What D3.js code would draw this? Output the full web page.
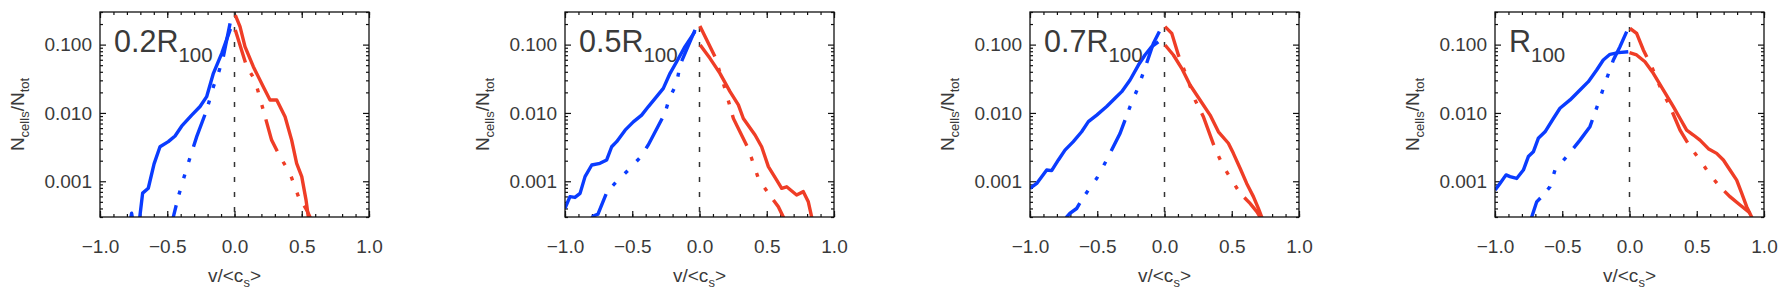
<!DOCTYPE html>
<html>
<head>
<meta charset="utf-8">
<script src="https://cdn.jsdelivr.net/npm/d3@7"></script>
<style>
  body { margin: 0; background: #fff; }
  svg text { font-family: "Liberation Sans", Arial, Helvetica, sans-serif; fill: #3a3a3a; }
</style>
</head>
<body>
<div id="chart"></div>
<script>
// panel labels: prefix before "R" with subscript "100"
var panelPrefix = ["0.2", "0.5", "0.7", ""];
var xTicks = [-1.0, -0.5, 0.0, 0.5, 1.0];
var yTicks = [0.001, 0.010, 0.100];

// [v/<c_s>, N_cells/N_tot]
var blueSolid1 = [[-0.775, 2.6e-4], [-0.765, 3.4e-4], [-0.755, 2.6e-4], [-0.710, 2.4e-4], [-0.683, 6.7e-4], [-0.641, 7.9e-4],
  [-0.598, 1.8e-3], [-0.554, 3.2e-3], [-0.492, 3.8e-3], [-0.442, 4.6e-3], [-0.393, 6.4e-3], [-0.318, 9.3e-3],
  [-0.256, 0.0124], [-0.207, 0.0173], [-0.157, 0.038], [-0.095, 0.0745], [-0.030, 0.17]];
var blueDash1 = [[-0.465, 2.4e-4], [-0.455, 3.0e-4], [-0.418, 5.9e-4], [-0.356, 1.55e-3], [-0.281, 4.5e-3], [-0.207, 0.011],
  [-0.157, 0.0242], [-0.120, 0.038], [-0.083, 0.0665], [-0.033, 0.205]];
var redSolid1 = [[0.006, 0.271], [0.041, 0.183], [0.078, 0.0933], [0.140, 0.0475], [0.214, 0.0242], [0.264, 0.0155],
  [0.314, 0.0155], [0.376, 8.8e-3], [0.425, 4.0e-3], [0.462, 1.83e-3], [0.500, 1.17e-3], [0.532, 5.3e-4],
  [0.549, 3.0e-4], [0.560, 2.5e-4]];
var redDash1 = [[0.006, 0.164], [0.091, 0.0475], [0.152, 0.0303], [0.214, 0.011], [0.276, 4.0e-3], [0.338, 2.3e-3],
  [0.413, 1.3e-3], [0.475, 6.0e-4], [0.537, 3.8e-4], [0.561, 3.0e-4], [0.575, 2.5e-4]];

var blueSolid2 = [[-1.0, 4.0e-4], [-0.963, 5.96e-4], [-0.926, 5.8e-4], [-0.888, 6.65e-4], [-0.851, 1.17e-3], [-0.801, 1.73e-3],
  [-0.740, 1.83e-3], [-0.690, 2.05e-3], [-0.653, 3.2e-3], [-0.616, 3.8e-3], [-0.553, 5.6e-3], [-0.492, 7.4e-3],
  [-0.430, 9.3e-3], [-0.380, 0.0124], [-0.319, 0.0173], [-0.269, 0.0229], [-0.219, 0.038], [-0.170, 0.0562],
  [-0.108, 0.0933], [-0.034, 0.155]];
var blueDash2 = [[-0.820, 2.5e-4], [-0.790, 3.1e-4], [-0.755, 3.3e-4], [-0.688, 7.0e-4], [-0.616, 9.9e-4], [-0.529, 1.46e-3],
  [-0.435, 2.3e-3], [-0.381, 3.4e-3], [-0.257, 9.9e-3], [-0.224, 0.0164], [-0.170, 0.027], [-0.145, 0.050],
  [-0.033, 0.164]];
var redSolid2 = [[0.005, 0.099], [0.078, 0.063], [0.152, 0.038], [0.227, 0.0205], [0.289, 0.0131], [0.326, 8.3e-3],
  [0.413, 4.75e-3], [0.462, 3.2e-3], [0.512, 1.64e-3], [0.574, 1.04e-3], [0.611, 7.9e-4], [0.648, 8.3e-4],
  [0.722, 6.3e-4], [0.772, 7.05e-4], [0.809, 5.0e-4], [0.834, 3.0e-4], [0.845, 2.4e-4]];
var redDash2 = [[0.003, 0.187], [0.115, 0.0665], [0.185, 0.0242], [0.252, 8.3e-3], [0.363, 3.0e-3], [0.442, 1.04e-3],
  [0.512, 6.7e-4], [0.586, 4.25e-4], [0.623, 3.0e-4], [0.640, 2.5e-4]];

var blueSolid3 = [[-1.0, 7.9e-4], [-0.950, 9.3e-4], [-0.876, 1.46e-3], [-0.839, 1.43e-3], [-0.789, 2.05e-3], [-0.740, 2.86e-3],
  [-0.678, 3.8e-3], [-0.616, 5.3e-3], [-0.566, 7.45e-3], [-0.504, 9.3e-3], [-0.430, 0.0124], [-0.368, 0.0164],
  [-0.318, 0.0205], [-0.256, 0.0303], [-0.194, 0.0502], [-0.145, 0.0705], [-0.095, 0.0933], [-0.046, 0.110]];
var blueDash3 = [[-0.740, 2.6e-4], [-0.727, 3.0e-4], [-0.703, 3.4e-4], [-0.653, 4.0e-4], [-0.616, 5.3e-4], [-0.566, 7.45e-4],
  [-0.504, 1.1e-3], [-0.430, 2.05e-3], [-0.331, 5.0e-3], [-0.256, 0.0124], [-0.194, 0.0242], [-0.133, 0.0532],
  [-0.083, 0.104], [-0.038, 0.155]];
var redSolid3 = [[0.004, 0.0986], [0.066, 0.0705], [0.128, 0.045], [0.190, 0.0256], [0.264, 0.0155], [0.339, 9.3e-3],
  [0.401, 5.3e-3], [0.475, 3.6e-3], [0.512, 2.56e-3], [0.562, 1.55e-3], [0.611, 9.3e-4], [0.661, 5.96e-4],
  [0.698, 4.0e-4], [0.723, 3.0e-4], [0.735, 2.5e-4]];
var redDash3 = [[0.004, 0.183], [0.054, 0.146], [0.103, 0.0705], [0.165, 0.034], [0.227, 0.0155], [0.289, 8.8e-3],
  [0.376, 3.0e-3], [0.438, 1.64e-3], [0.500, 1.04e-3], [0.562, 6.7e-4], [0.636, 4.75e-4], [0.686, 3.6e-4],
  [0.711, 3.0e-4], [0.725, 2.5e-4]];

var blueSolid4 = [[-0.999, 7.45e-4], [-0.963, 9.3e-4], [-0.918, 1.24e-3], [-0.888, 1.17e-3], [-0.839, 1.1e-3], [-0.789, 1.46e-3],
  [-0.752, 2.3e-3], [-0.715, 2.7e-3], [-0.678, 4.25e-3], [-0.628, 5.3e-3], [-0.566, 8.3e-3], [-0.517, 0.0117],
  [-0.442, 0.0155], [-0.368, 0.0217], [-0.306, 0.0287], [-0.244, 0.0425], [-0.195, 0.0596], [-0.145, 0.0721],
  [-0.083, 0.0762], [-0.009, 0.0787]];
var blueDash4 = [[-0.740, 2.5e-4], [-0.727, 3.0e-4], [-0.690, 5.0e-4], [-0.641, 6.3e-4], [-0.591, 8.3e-4], [-0.554, 1.46e-3],
  [-0.467, 2.3e-3], [-0.368, 4.0e-3], [-0.294, 6.3e-3], [-0.232, 0.0138], [-0.182, 0.0271], [-0.120, 0.0596],
  [-0.071, 0.0933], [-0.021, 0.155]];
var redSolid4 = [[0.0, 0.0762], [0.053, 0.0705], [0.115, 0.0562], [0.177, 0.038], [0.251, 0.0217], [0.326, 0.0124],
  [0.376, 8.3e-3], [0.425, 5.6e-3], [0.475, 4.75e-3], [0.524, 4.0e-3], [0.586, 3.0e-3], [0.648, 2.56e-3],
  [0.698, 2.05e-3], [0.747, 1.46e-3], [0.797, 1.04e-3], [0.834, 6.7e-4], [0.871, 4.25e-4], [0.908, 3.0e-4],
  [0.920, 2.6e-4]];
var redDash4 = [[0.004, 0.173], [0.053, 0.146], [0.103, 0.0834], [0.165, 0.0475], [0.227, 0.0242], [0.301, 0.0124],
  [0.376, 5.6e-3], [0.450, 3.2e-3], [0.524, 2.05e-3], [0.599, 1.24e-3], [0.673, 8.3e-4], [0.747, 5.96e-4],
  [0.822, 4.5e-4], [0.884, 3.6e-4], [0.921, 3.0e-4], [0.935, 2.6e-4]];

var blueSolid = [blueSolid1, blueSolid2, blueSolid3, blueSolid4];
var blueDash = [blueDash1, blueDash2, blueDash3, blueDash4];
var redSolid = [redSolid1, redSolid2, redSolid3, redSolid4];
var redDash = [redDash1, redDash2, redDash3, redDash4];

var W = 1792, H = 288;
var plotW = 269, plotH = 205, top0 = 12, left0 = 100, step = 465;
var blue = "#0a3cff", red = "#ef3d26";
var dashDot3 = "34,12,4,13,4,13,4,11";

var svg = d3.select("#chart").append("svg")
  .attr("width", W).attr("height", H);

var x = d3.scaleLinear().domain([-1, 1]).range([0, plotW]);
var y = d3.scaleLog().domain([3e-4, 0.3]).range([plotH, 0]);

// minor tick positions
var xMinor = d3.range(-10, 11).map(function(i) { return i / 10; });
var yMinor = [];
[1e-4, 1e-3, 1e-2, 1e-1].forEach(function(dec) {
  for (var k = 2; k <= 9; k++) {
    var v = k * dec;
    if (v >= 3e-4 && v <= 0.3 + 1e-9) yMinor.push(v);
  }
});

var line = d3.line()
  .x(function(d) { return x(d[0]); })
  .y(function(d) { return y(d[1]); });

for (var p = 0; p < 4; p++) {
  var g = svg.append("g")
    .attr("transform", "translate(" + (left0 + p * step) + "," + top0 + ")");

  g.append("clipPath").attr("id", "clip" + p)
    .append("rect").attr("width", plotW).attr("height", plotH);

  // ticks: inward on all four sides
  var axes = [
    [d3.axisBottom(x).tickValues(xTicks).tickSize(-6).tickPadding(23).tickFormat(d3.format(".1f")), "translate(0," + plotH + ")"],
    [d3.axisBottom(x).tickValues(xMinor).tickSize(-3).tickFormat(""), "translate(0," + plotH + ")"],
    [d3.axisTop(x).tickValues(xTicks).tickSize(-6).tickFormat(""), null],
    [d3.axisTop(x).tickValues(xMinor).tickSize(-3).tickFormat(""), null],
    [d3.axisLeft(y).tickValues(yTicks).tickSize(-6).tickPadding(8).tickFormat(d3.format(".3f")), null],
    [d3.axisLeft(y).tickValues(yMinor).tickSize(-3).tickFormat(""), null],
    [d3.axisRight(y).tickValues(yTicks).tickSize(-6).tickFormat(""), "translate(" + plotW + ",0)"],
    [d3.axisRight(y).tickValues(yMinor).tickSize(-3).tickFormat(""), "translate(" + plotW + ",0)"]
  ];
  axes.forEach(function(a) {
    var ag = g.append("g").call(a[0]);
    if (a[1]) ag.attr("transform", a[1]);
    ag.select(".domain").remove();
    ag.selectAll("line").attr("stroke", "#111").attr("stroke-width", 1.2);
    ag.selectAll("text").attr("font-size", 19).attr("fill", "#3a3a3a")
      .style("font-family", "'Liberation Sans', Arial, sans-serif");
  });

  var plot = g.append("g").attr("clip-path", "url(#clip" + p + ")");

  // zero velocity line
  plot.append("line")
    .attr("x1", x(0)).attr("x2", x(0))
    .attr("y1", 0).attr("y2", plotH)
    .attr("stroke", "#333").attr("stroke-width", 1.5)
    .attr("stroke-dasharray", "5,10");

  // blue curves drawn from v=0 outwards, red from v=0 outwards
  plot.append("path").datum(blueSolid[p].slice().reverse())
    .attr("d", line).attr("fill", "none")
    .attr("stroke", blue).attr("stroke-width", 3.4).attr("stroke-linejoin", "round");
  plot.append("path").datum(blueDash[p].slice().reverse())
    .attr("d", line).attr("fill", "none")
    .attr("stroke", blue).attr("stroke-width", 3.4)
    .attr("stroke-dasharray", dashDot3);
  plot.append("path").datum(redSolid[p])
    .attr("d", line).attr("fill", "none")
    .attr("stroke", red).attr("stroke-width", 3.4).attr("stroke-linejoin", "round");
  plot.append("path").datum(redDash[p])
    .attr("d", line).attr("fill", "none")
    .attr("stroke", red).attr("stroke-width", 3.4)
    .attr("stroke-dasharray", dashDot3);

  // frame
  g.append("rect")
    .attr("width", plotW).attr("height", plotH)
    .attr("fill", "none").attr("stroke", "#111").attr("stroke-width", 1.3);

  // panel label
  var lab = g.append("text").attr("x", 14).attr("y", 40)
    .attr("font-size", 30.5).attr("fill", "#333");
  lab.append("tspan").text(panelPrefix[p] + "R");
  lab.append("tspan").attr("font-size", 20.5).attr("dy", 10).text("100");

  // y title
  var yt = g.append("text")
    .attr("transform", "translate(-76," + (plotH / 2) + ") rotate(-90)")
    .attr("text-anchor", "middle").attr("font-size", 19);
  yt.append("tspan").text("N");
  yt.append("tspan").attr("font-size", 13).attr("dy", 5).text("cells");
  yt.append("tspan").attr("dy", -5).text("/N");
  yt.append("tspan").attr("font-size", 13).attr("dy", 5).text("tot");

  // x title (cut by the bottom edge, as in the original figure)
  var xt = g.append("text")
    .attr("x", plotW / 2).attr("y", 270)
    .attr("text-anchor", "middle").attr("font-size", 19);
  xt.append("tspan").text("v/<c");
  xt.append("tspan").attr("font-size", 13).attr("dy", 5).text("s");
  xt.append("tspan").attr("dy", -5).text(">");
}
</script>
</body>
</html>
